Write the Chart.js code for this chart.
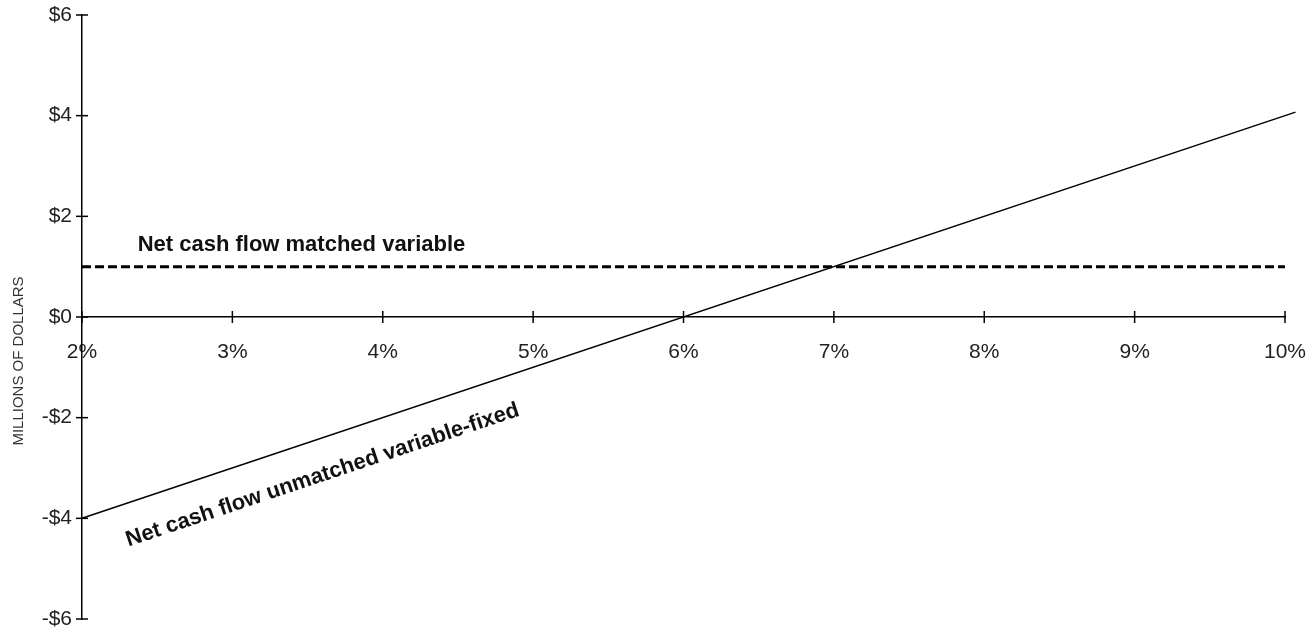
<!DOCTYPE html>
<html>
<head>
<meta charset="utf-8">
<script src="https://cdn.jsdelivr.net/npm/chart.js@4.4.0/dist/chart.umd.min.js"></script>
<style>
  html, body { margin: 0; padding: 0; background: #fff; }
  #wrap { width: 1313px; height: 635px; }
</style>
</head>
<body>
<div id="wrap"><canvas id="cashChart" width="1313" height="635"></canvas></div>
<script>
// interest rate (%) and net cash flow (millions of dollars)
const unmatchedRates = [2, 10.07];
const unmatchedFlow = [-4, 4.07];
const matchedRates = [2, 10];
const matchedFlow = [1, 1];

const yTicks = [-6, -4, -2, 0, 2, 4, 6];
const xTicks = [2, 3, 4, 5, 6, 7, 8, 9, 10];

const FAMILY = '"Liberation Sans", Arial, sans-serif';
const labelFont = 'bold 22px ' + FAMILY;

function toPoints(xs, ys) {
    return xs.map((x, i) => ({ x: x, y: ys[i] }));
}

function money(v) {
    return (v < 0 ? '-$' : '$') + Math.abs(v);
}

// crossing tick marks, axis title and text labels on the lines
const annotations = {
    id: 'annotations',
    afterDraw(chart) {
        const ctx = chart.ctx;
        const xs = chart.scales.x;
        const ys = chart.scales.y;
        const axisY = ys.getPixelForValue(0);
        const axisX = chart.chartArea.left;

        ctx.save();
        ctx.strokeStyle = '#000';
        ctx.lineWidth = 1.5;
        xTicks.forEach(t => {
            const px = xs.getPixelForValue(t);
            ctx.beginPath();
            ctx.moveTo(px, axisY - 6);
            ctx.lineTo(px, axisY + 6);
            ctx.stroke();
        });
        yTicks.forEach(t => {
            const py = ys.getPixelForValue(t);
            ctx.beginPath();
            ctx.moveTo(axisX - 6, py);
            ctx.lineTo(axisX + 6, py);
            ctx.stroke();
        });

        // y axis title, sits a bit below the middle
        ctx.save();
        ctx.fillStyle = '#333';
        ctx.font = '15px ' + FAMILY;
        ctx.textAlign = 'center';
        ctx.textBaseline = 'middle';
        ctx.translate(19, 361);
        ctx.rotate(-Math.PI / 2);
        ctx.fillText('MILLIONS OF DOLLARS', 0, 0);
        ctx.restore();

        ctx.fillStyle = '#111';
        ctx.font = labelFont;
        ctx.textBaseline = 'alphabetic';
        ctx.textAlign = 'left';
        ctx.fillText('Net cash flow matched variable', xs.getPixelForValue(2.37), ys.getPixelForValue(1.31));

        // rotate along the unmatched line
        const dx = xs.getPixelForValue(unmatchedRates[1]) - xs.getPixelForValue(unmatchedRates[0]);
        const dy = ys.getPixelForValue(unmatchedFlow[1]) - ys.getPixelForValue(unmatchedFlow[0]);
        const angle = Math.atan2(dy, dx);
        ctx.translate(xs.getPixelForValue(2.31), ys.getPixelForValue(-4.56));
        ctx.rotate(angle);
        ctx.fillText('Net cash flow unmatched variable-fixed', 0, 0);
        ctx.restore();
    }
};

const ctx = document.getElementById('cashChart').getContext('2d');
new Chart(ctx, {
    type: 'line',
    data: {
        datasets: [{
            label: 'Net cash flow unmatched variable-fixed',
            data: toPoints(unmatchedRates, unmatchedFlow),
            borderColor: '#000',
            borderWidth: 1.5,
            pointRadius: 0,
            clip: false
        }, {
            label: 'Net cash flow matched variable',
            data: toPoints(matchedRates, matchedFlow),
            borderColor: '#000',
            borderWidth: 3,
            borderDash: [9, 4],
            pointRadius: 0
        }]
    },
    options: {
        responsive: false,
        animation: false,
        layout: { padding: { left: 0, top: 15, right: 28, bottom: 16 } },
        plugins: {
            legend: { display: false },
            tooltip: { enabled: false }
        },
        scales: {
            x: {
                type: 'linear',
                position: { y: 0 },
                min: 2,
                max: 10,
                afterFit(scale) {
                    scale.height = 0;
                    scale.paddingLeft = 0;
                    scale.paddingRight = 0;
                },
                afterBuildTicks(scale) { scale.ticks = xTicks.map(v => ({ value: v })); },
                grid: { display: false, drawTicks: false },
                border: { display: true, color: '#000', width: 1.5 },
                ticks: {
                    padding: 23,
                    maxRotation: 0,
                    color: '#222',
                    font: { family: FAMILY, size: 21 },
                    callback: v => v + '%'
                }
            },
            y: {
                min: -6,
                max: 6,
                afterFit(scale) {
                    scale.width = 82;
                    scale.paddingTop = 0;
                    scale.paddingBottom = 0;
                },
                afterBuildTicks(scale) { scale.ticks = yTicks.map(v => ({ value: v })); },
                grid: { display: false, drawTicks: false },
                border: { display: true, color: '#000', width: 1.5 },
                ticks: {
                    padding: 10,
                    color: '#222',
                    font: { family: FAMILY, size: 21 },
                    callback: v => money(v)
                }
            }
        }
    },
    plugins: [annotations]
});
</script>
</body>
</html>
